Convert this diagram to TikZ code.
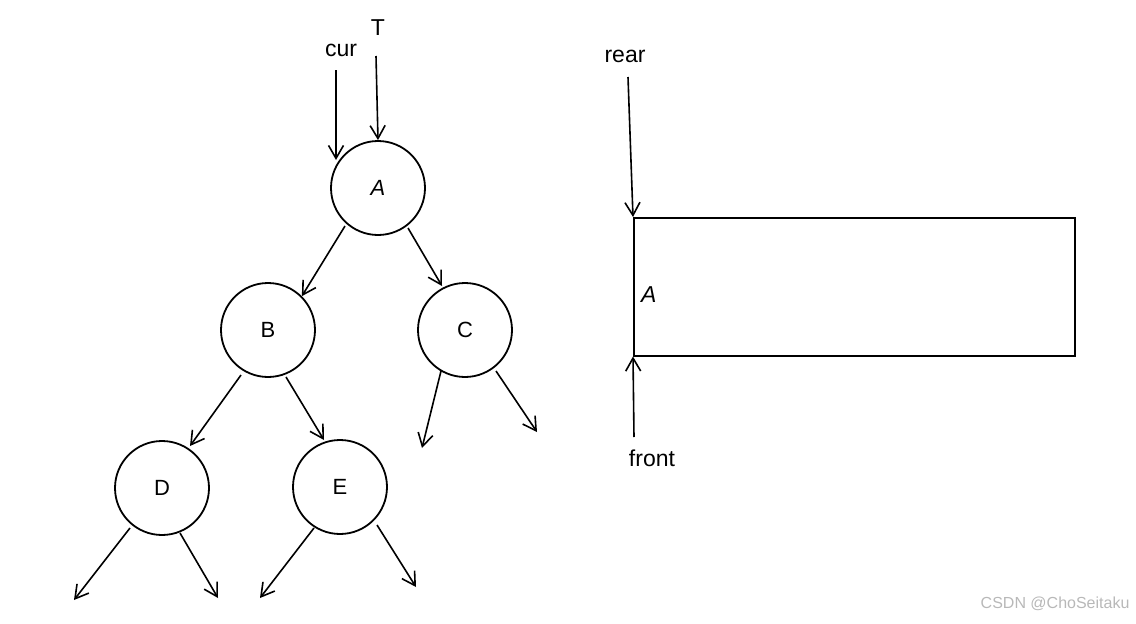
\documentclass[tikz,border=0pt]{standalone}
\usepackage{fontspec}
\setmainfont{Liberation Sans}
\usetikzlibrary{arrows.meta}
\begin{document}
\begin{tikzpicture}[x=1pt,y=-1pt,
  tnode/.style={circle,draw,line width=1.8pt,minimum size=94pt,inner sep=0pt,font=\fontsize{22}{26}\selectfont},
  lbl/.style={font=\fontsize{23}{27}\selectfont,inner sep=0pt},
  arr/.style={-{Straight Barb[length=13pt,width=15pt]},line width=1.6pt}]
\useasboundingbox (0,0) rectangle (1136,624);
\node[tnode] (A) at (378,188) {\itshape A};
\node[tnode] (B) at (268,330) {B};
\node[tnode] (C) at (465,330) {C};
\node[tnode] (D) at (162,488) {D};
\node[tnode] (E) at (340,487) {E};
\node[lbl] (cur) at (341,50) {cur};
\node[lbl] (T) at (378,28) {T};
\coordinate (curS) at (336,70);
\coordinate (curE) at (336,160);
\coordinate (TS) at (376,56);
\draw[arr] (curS) -- (curE);
\draw[arr] (TS) -- (A.north);
\draw[arr] (345,226) -- (B.north east);
\draw[arr] (408,228) -- (442,286);
\draw[arr] (241,375) -- (190,446);
\draw[arr] (286,377) -- (324,440);
\coordinate (c1) at (422,448);
\coordinate (c2) at (537,432);
\coordinate (d1) at (74,600);
\coordinate (d2) at (218,598);
\coordinate (e1) at (260,598);
\coordinate (e2) at (416,587);
\draw[arr] (441,371) -- (c1);
\draw[arr] (496,371) -- (c2);
\draw[arr] (130,528) -- (d1);
\draw[arr] (180,533) -- (d2);
\draw[arr] (314,528) -- (e1);
\draw[arr] (377,525) -- (e2);
\node[draw,line width=1.5pt,minimum width=441pt,minimum height=138pt,anchor=north west,inner sep=0pt] (Q) at (633,217) {};
\node[lbl,anchor=west] (qa) at (641,295) {\itshape A};
\node[lbl] (rear) at (625,56) {rear};
\node[lbl] (front) at (652,458) {front};
\coordinate (rS) at (628,77);
\coordinate (fS) at (634,437);
\draw[arr] (rS) -- (Q.north west);
\draw[arr] (fS) -- (Q.south west);
\node[font=\fontsize{16}{18}\selectfont,text=black!28,anchor=east] (wm) at (1133,604) {CSDN @ChoSeitaku};
\end{tikzpicture}
\end{document}
